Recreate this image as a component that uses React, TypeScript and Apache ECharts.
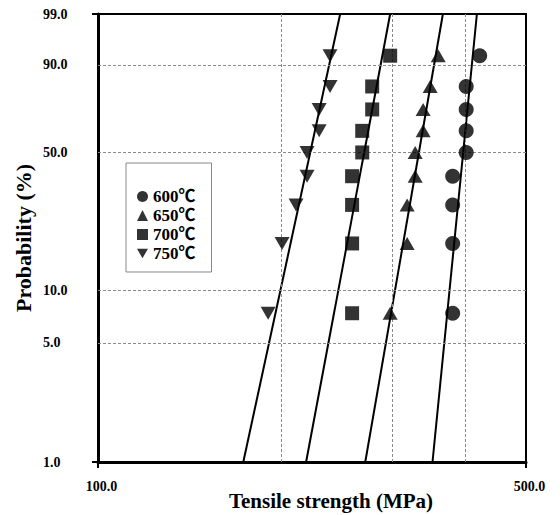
import React, { useEffect, useRef } from "react";
import * as echarts from "echarts";

// Legend / series names
const temps = ["600℃", "650℃", "700℃", "750℃"];
// Failure probability (%) of the ranked specimens
const probabilities = [7.4, 18.1, 28.7, 39.4, 50.0, 60.6, 71.3, 81.9, 92.6];
// Tensile strength (MPa) per temperature, ranked
const strength600 = [379.5, 379.5, 379.5, 379.5, 399.3, 399.3, 399.3, 399.3, 420.1];
const strength650 = [300.0, 319.8, 319.8, 329.6, 329.6, 339.6, 339.6, 348.7, 359.4];
const strength700 = [260.0, 260.0, 260.0, 260.0, 270.1, 270.1, 280.4, 280.4, 300.0];
const strength750 = [189.6, 199.8, 210.6, 219.5, 219.5, 229.7, 229.7, 239.3, 239.3];
// Fitted Weibull lines: strength at 1 % and at 99 % probability
const fitAt1 = [351.8, 273.2, 218.7, 172.7];
const fitAt99 = [415.7, 365.8, 300.0, 248.6];
// Axis ticks and grid
const yTicks = [1, 5, 10, 50, 90, 99];
const xTicks = [100, 500];
const xGrid = [200, 300, 400];
const yGrid = [5, 10, 50, 90];

const W = (p: number) => Math.log(-Math.log(1 - p / 100));
const Winv = (v: number) => 100 * (1 - Math.exp(-Math.exp(v)));
const L = (x: number) => Math.log10(x);

const FONT = "'Liberation Serif', 'Times New Roman', serif";
const LEGEND_FONT = "'Liberation Serif', 'Noto Sans CJK JP', serif";
const DOWN_TRI = "path://M0,0L2,0L1,1.732Z";

export default function App() {
  const ref = useRef<HTMLDivElement>(null);
  useEffect(() => {
    if (!ref.current) return;
    const chart = echarts.init(ref.current, null, { renderer: "svg" });
    const strengths = [strength600, strength650, strength700, strength750];
    const symbols = ["circle", "triangle", "rect", DOWN_TRI];
    const sizes: any[] = [15, [15, 13], 14, [15, 13]];
    const yMin = W(yTicks[0]);
    const yMax = W(yTicks[yTicks.length - 1]);
    const xMin = L(xTicks[0]);
    const xMax = L(xTicks[xTicks.length - 1]);

    const scatter = temps.map((t, i) => ({
      name: t,
      type: "scatter",
      symbol: symbols[i],
      symbolSize: sizes[i],
      itemStyle: { color: "#000" },
      data: strengths[i].map((s, k) => [L(s), W(probabilities[k])]),
      z: 5,
    }));
    const fits = temps.map((t, i) => ({
      name: "fit " + t,
      type: "line",
      symbol: "none",
      lineStyle: { color: "#000", width: 2 },
      data: [
        [L(fitAt1[i]), W(yTicks[0])],
        [L(fitAt99[i]), W(yTicks[yTicks.length - 1])],
      ],
      z: 4,
    }));
    const gridSeries = {
      name: "grid",
      type: "line",
      data: [],
      silent: true,
      markLine: {
        silent: true,
        symbol: "none",
        label: { show: false },
        lineStyle: { color: "#8a8a8a", width: 1, type: [3, 2] },
        data: [
          ...xGrid.map((g) => ({ xAxis: L(g) })),
          ...yGrid.map((g) => ({ yAxis: W(g) })),
        ],
      },
      z: 1,
    };

    chart.setOption({
      animation: false,
      backgroundColor: "#fff",
      grid: {
        left: 98,
        right: 34,
        top: 14,
        bottom: 53,
        show: true,
        borderColor: "#000",
        borderWidth: 2,
        containLabel: false,
        outerBoundsMode: "none",
      },
      legend: {
        data: temps,
        orient: "vertical",
        left: 126,
        top: 163,
        padding: [25, 16, 10, 11],
        itemGap: 2,
        itemWidth: 11,
        itemHeight: 11,
        borderColor: "#888",
        borderWidth: 1,
        textStyle: {
          fontFamily: LEGEND_FONT,
          fontWeight: "bold",
          fontSize: 17,
          lineHeight: 16,
          color: "#000",
        },
      },
      xAxis: {
        type: "value",
        min: xMin,
        max: xMax,
        name: "Tensile strength (MPa)",
        nameLocation: "middle",
        nameGap: 28,
        nameMoveOverlap: false,
        nameTextStyle: {
          fontFamily: FONT,
          fontWeight: "bold",
          fontSize: 21,
          color: "#000",
          padding: [0, 0, 0, 38],
        },
        axisLine: { onZero: false, lineStyle: { color: "#000", width: 3 } },
        axisTick: {
          show: true,
          length: 6,
          customValues: [xMin, xMax],
          lineStyle: { color: "#000", width: 2 },
        },
        axisLabel: {
          customValues: xTicks.map(L),
          formatter: (v: number) => Math.pow(10, v).toFixed(1),
          margin: 17,
          padding: [0, 0, 0, 7],
          fontFamily: FONT,
          fontWeight: "bold",
          fontSize: 14,
          color: "#000",
        },
        splitLine: { show: false },
      },
      yAxis: {
        type: "value",
        min: yMin,
        max: yMax,
        name: "Probability (%)",
        nameLocation: "middle",
        nameGap: 64,
        nameMoveOverlap: false,
        nameTextStyle: {
          fontFamily: FONT,
          fontWeight: "bold",
          fontSize: 22,
          color: "#000",
        },
        axisLine: { onZero: false, lineStyle: { color: "#000", width: 3 } },
        axisTick: {
          show: true,
          length: 6,
          customValues: [yMin, yMax],
          lineStyle: { color: "#000", width: 2 },
        },
        axisLabel: {
          customValues: yTicks.map(W),
          formatter: (v: number) => "{a|" + Winv(v).toFixed(1) + "}",
          margin: 25,
          rich: {
            a: {
              width: 30,
              align: "left",
              fontFamily: FONT,
              fontWeight: "bold",
              fontSize: 14,
              color: "#000",
            },
          },
        },
        splitLine: { show: false },
      },
      series: [gridSeries, ...fits, ...scatter],
    });
    return () => chart.dispose();
  }, []);
  return (
    <div
      ref={ref}
      style={{ position: "fixed", left: 0, top: 0, width: 560, height: 515 }}
    />
  );
}
